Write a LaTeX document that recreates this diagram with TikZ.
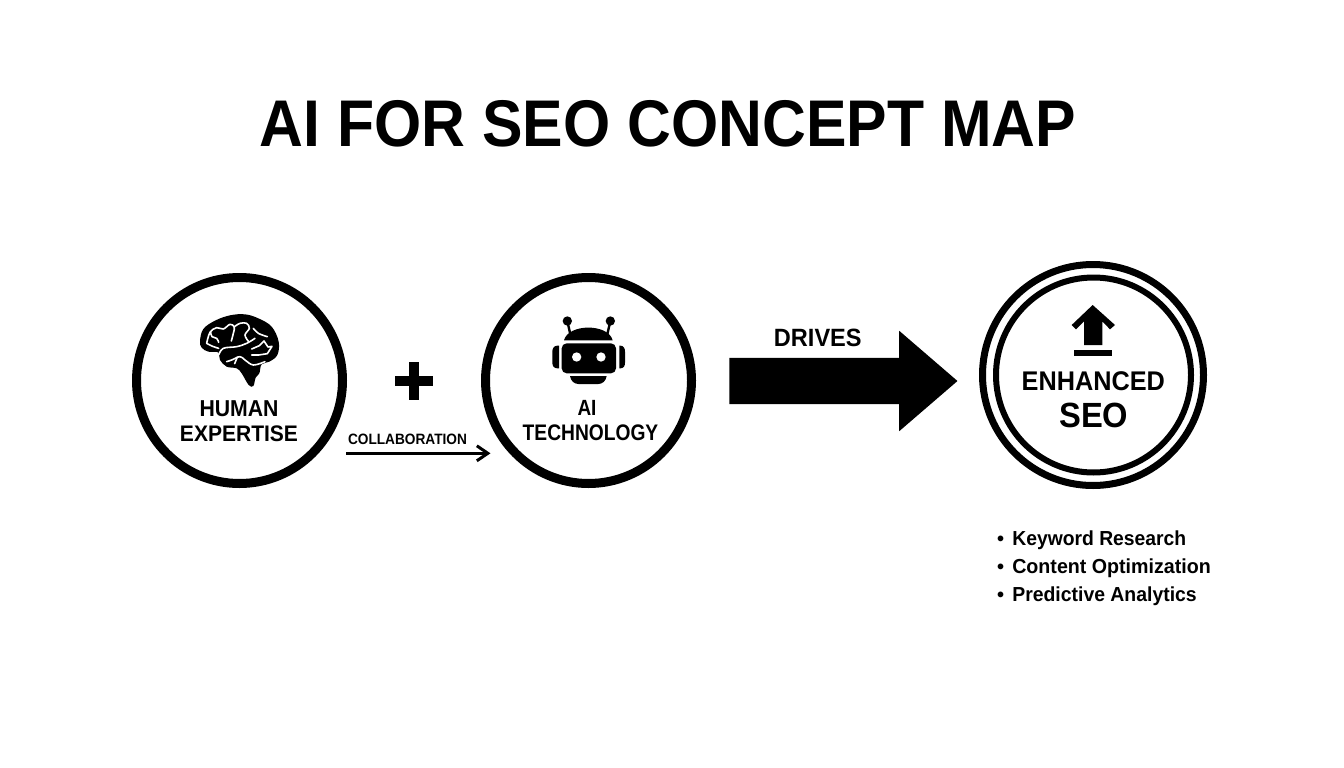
\documentclass[tikz,border=0pt]{standalone}
\usepackage{fontspec}
\usepackage{graphicx}
\setmainfont{Liberation Sans}
\usetikzlibrary{arrows.meta,shapes.arrows}
\newcommand{\fitbox}[3]{\resizebox{#1pt}{\height}{\fontsize{#2}{#2}\selectfont\bfseries #3}}
\newcommand{\listline}[2]{\resizebox{#1pt}{\height}{\fontsize{20.3}{24}\selectfont\bfseries #2}}
\tikzset{
  label text/.style={inner sep=0pt,outer sep=0pt,text=black,anchor=base},
  plus bar/.style={inner sep=0pt,outer sep=0pt,fill=black,anchor=center},
  list text/.style={inner sep=0pt,outer sep=0pt,text=black,anchor=base west},
  list dot/.style={inner sep=0pt,outer sep=0pt,text=black,anchor=base,font=\fontsize{20}{24}\selectfont\bfseries},
  ring/.style={circle,draw=black,fill=white,line width=9pt,minimum size=206pt,inner sep=0pt,outer sep=0pt},
  ringouter/.style={circle,draw=black,fill=white,line width=7pt,minimum size=221pt,inner sep=0pt,outer sep=0pt},
  ringinner/.style={circle,draw=black,fill=none,line width=6pt,minimum size=195pt,inner sep=0pt,outer sep=0pt},
  bigarrow/.style={single arrow,fill=black,draw=none,minimum height=228pt,
    single arrow head extend=27pt,single arrow tip angle=81.5,single arrow head indent=0pt,inner sep=0pt,outer sep=0pt},
  thinarrow/.style={draw=black,line width=3pt,-{Straight Barb[length=11pt,width=15pt,line width=3pt]}},
  icon/.style={fill=black,draw=none},
  crease/.style={draw=white,line width=1.6pt,line cap=round,line join=round},
}
\begin{document}
\begin{tikzpicture}[x=1pt,y=-1pt]
\useasboundingbox (0,0) rectangle (1344,768);
\fill[white] (0,0) rectangle (1344,768);

\node[label text] (title) at (668,146.3) {\fitbox{816}{66}{AI FOR SEO CONCEPT MAP}};

% circles
\node[ring] (human) at (239.5,380.5) {};
\node[ring] (tech) at (588.5,380.5) {};
\node[ringouter] (seoouter) at (1093,375) {};
\node[ringinner] (seoinner) at (1093.5,375) {};

% brain
\begin{scope}[shift={(190,305)},scale=1/3]
  \fill[icon] plot[smooth cycle,tension=0.6] coordinates {
    (30,108) (40,72) (75,47) (120,31) (165,28) (205,40) (245,65) (266,110) (262,150)
    (238,170) (215,178) (208,205) (197,218) (190,243) (176,240) (155,205) (140,190)
    (110,185) (90,165) (84,142) (55,140) (35,128)};
  \draw[crease] plot[smooth,tension=0.6] coordinates {(50,115) (60,82) (80,68) (100,72) (120,58) (133,66) (130,85) (124,108)};
  \draw[crease] plot[smooth,tension=0.6] coordinates {(62,82) (66,95) (80,100) (86,112)};
  \draw[crease] plot[smooth,tension=0.6] coordinates {(132,66) (150,55) (170,55) (178,70) (165,90) (176,110)};
  \draw[crease] plot[smooth,tension=0.6] coordinates {(190,70) (205,85) (232,95)};
  \draw[crease] plot[smooth,tension=0.6] coordinates {(86,150) (100,130) (140,125) (170,115) (195,100)};
  \draw[crease] (185,132) -- (208,122) -- (222,108) -- (234,126) -- (246,124) -- (232,146) -- (206,150) -- (185,150);
  \draw[crease] plot[smooth,tension=0.6] coordinates {(110,170) (125,165) (150,155) (165,165) (190,180) (225,170)};
  \draw[crease] (142,156) -- (134,176);
  \draw[crease] plot[smooth,tension=0.6] coordinates {(50,115) (68,124) (86,130)};
\end{scope}

% robot
\begin{scope}[shift={(340,260)},scale=1/3]
  \fill[icon] (682,183) circle (14);
  \fill[icon] (811,183) circle (14);
  \draw[black,line width=2.4pt] (682,183) -- (693,232);
  \draw[black,line width=2.4pt] (811,183) -- (800,232);
  \fill[icon] (672,241) .. controls (685,190) and (805,190) .. (818,241) -- cycle;
  \fill[icon,rounded corners=5pt] (665,250) rectangle (828,340);
  \fill[white] (710,291) circle (14);
  \fill[white] (783,291) circle (14);
  \fill[icon] (657,257) -- (652,257) .. controls (642,257) and (637,265) .. (637,275) -- (637,308) .. controls (637,318) and (642,325) .. (652,325) -- (657,325) -- cycle;
  \fill[icon] (838,257) -- (841,257) .. controls (851,257) and (855,265) .. (855,275) -- (855,308) .. controls (855,318) and (851,325) .. (841,325) -- (838,325) -- cycle;
  \fill[icon] (690,348) -- (800,348) .. controls (798,362) and (788,372) .. (775,372) -- (715,372) .. controls (702,372) and (692,362) .. (690,348) -- cycle;
\end{scope}

% upload arrow
\begin{scope}[shift={(720,250)},scale=1/3]
  \fill[icon] (1118,165) -- (1185,225) -- (1170,238) -- (1147,214) -- (1147,285) -- (1092,285) -- (1092,214) -- (1068,238) -- (1055,225) -- cycle;
  \fill[icon] (1062,300) rectangle (1177,318);
\end{scope}

% circle labels
\node[label text] (humanA) at (239,416) {\fitbox{79}{23}{HUMAN}};
\node[label text] (humanB) at (239,441) {\fitbox{118}{22.5}{EXPERTISE}};
\node[label text] (techA) at (587,415.3) {\fitbox{19}{22}{AI}};
\node[label text] (techB) at (590.5,440.3) {\fitbox{135.6}{22.5}{TECHNOLOGY}};
\node[label text] (enhA) at (1093.3,390.5) {\fitbox{143.3}{27}{ENHANCED}};
\node[label text] (enhB) at (1093.8,427.5) {\fitbox{69}{35}{SEO}};

% plus
\node[plus bar,minimum width=38pt,minimum height=9.5pt] (plusH) at (414,381) {};
\node[plus bar,minimum width=9.5pt,minimum height=38pt] (plusV) at (414,381) {};

% collaboration connector
\node[label text] (collab) at (407.5,444.3) {\fitbox{119}{15}{COLLABORATION}};
\coordinate (cstart) at (346,453.3);
\coordinate (cend) at (490.5,453.3);
\draw[thinarrow] (cstart) -- (cend);

% drives arrow
\node[bigarrow] (drivesarrow) at (830,381) {\rule{0pt}{46pt}};
\node[label text] (drives) at (817.8,346.3) {\fitbox{87.7}{25}{DRIVES}};

% list
\node[list dot] (b1) at (1000.7,545.7) {•};
\node[list dot] (b2) at (1000.7,573.3) {•};
\node[list dot] (b3) at (1000.7,601) {•};
\node[list text] (l1) at (1012.3,545.7) {\listline{174}{Keyword Research}};
\node[list text] (l2) at (1012.3,573.3) {\listline{198.5}{Content Optimization}};
\node[list text] (l3) at (1012.3,601) {\listline{184.5}{Predictive Analytics}};
\end{tikzpicture}
\end{document}
